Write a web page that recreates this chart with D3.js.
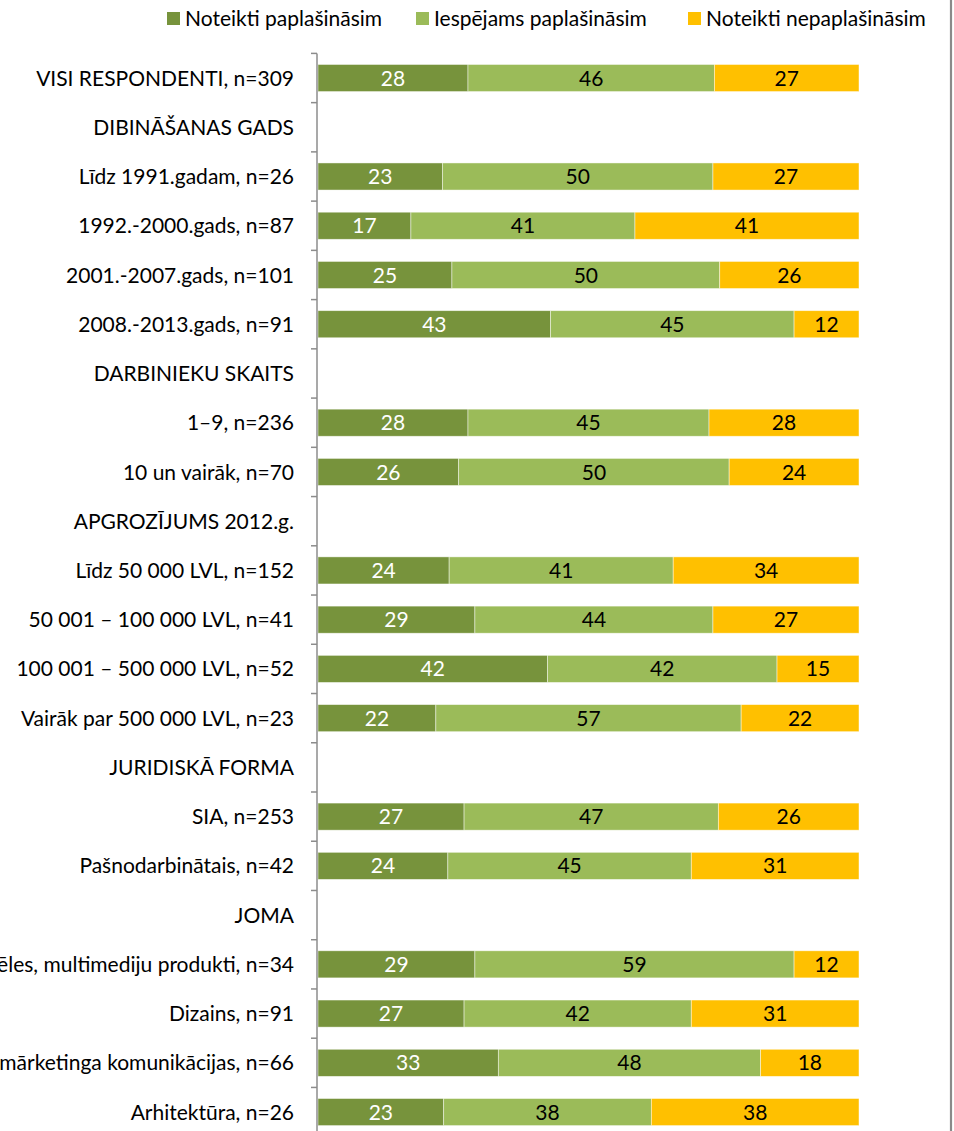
<!DOCTYPE html>
<html>
<head>
<meta charset="utf-8">
<script src="https://cdn.jsdelivr.net/npm/d3@7"></script>
<style>
  html, body { margin: 0; padding: 0; background: #fff; }
  svg { display: block; }
  text { font-family: Lato, "Open Sans", sans-serif; }
</style>
</head>
<body>
<svg id="chart" width="954" height="1131"></svg>
<script>
const categories = [
  "VISI RESPONDENTI, n=309",
  "DIBINĀŠANAS GADS",
  "Līdz 1991.gadam, n=26",
  "1992.-2000.gads, n=87",
  "2001.-2007.gads, n=101",
  "2008.-2013.gads, n=91",
  "DARBINIEKU SKAITS",
  "1–9, n=236",
  "10 un vairāk, n=70",
  "APGROZĪJUMS 2012.g.",
  "Līdz 50 000 LVL, n=152",
  "50 001 – 100 000 LVL, n=41",
  "100 001 – 500 000 LVL, n=52",
  "Vairāk par 500 000 LVL, n=23",
  "JURIDISKĀ FORMA",
  "SIA, n=253",
  "Pašnodarbinātais, n=42",
  "JOMA",
  "Datorspēles, multimediju produkti, n=34",
  "Dizains, n=91",
  "Reklāma un mārketinga komunikācijas, n=66",
  "Arhitektūra, n=26"
];
const seriesNames = ["Noteikti paplašināsim", "Iespējams paplašināsim", "Noteikti nepaplašināsim"];
const definitely = [28, null, 23, 17, 25, 43, null, 28, 26, null, 24, 29, 42, 22, null, 27, 24, null, 29, 27, 33, 23];
const possibly   = [46, null, 50, 41, 50, 45, null, 45, 50, null, 41, 44, 42, 57, null, 47, 45, null, 59, 42, 48, 38];
const definitelyNot = [27, null, 27, 41, 26, 12, null, 28, 24, null, 34, 27, 15, 22, null, 26, 31, null, 12, 31, 18, 38];
const colors = ["#77933C", "#9BBB59", "#FFC000"];
const labelColors = ["#ffffff", "#000000", "#000000"];

const svg = d3.select("#chart");
const W = 954, H = 1131;
const FS = 21;
const plotLeft = 318, plotRight = 859;
const rowStep = 49.24;
const top0 = 53.4;

const rows = categories.map((c, i) => ({
  cat: c,
  s0: definitely[i], s1: possibly[i], s2: definitelyNot[i],
  header: definitely[i] == null
}));

const y = d3.scaleBand()
  .domain(categories)
  .range([top0, top0 + rowStep * categories.length])
  .paddingInner(0.45).paddingOuter(0.225);

const x = d3.scaleLinear().domain([0, 1]).range([plotLeft, plotRight]);

const stack = d3.stack()
  .keys(["s0", "s1", "s2"])
  .value((d, k) => d[k] == null ? 0 : d[k])
  .offset(d3.stackOffsetExpand);
const stacked = stack(rows.map(r => r.header ? {cat: r.cat, s0: 0, s1: 0, s2: 0, header: true} : r));

// right frame line
svg.append("line").attr("x1", 951).attr("x2", 951).attr("y1", 0).attr("y2", H)
  .attr("stroke", "#8a8a8a").attr("stroke-width", 2.2);

// bars
stacked.forEach((layer, li) => {
  const g = svg.append("g");
  layer.forEach((d, i) => {
    const r = rows[i];
    if (r.header) return;
    const x0 = x(d[0]), x1 = x(d[1]);
    g.append("rect")
      .attr("x", x0).attr("y", y(r.cat))
      .attr("width", x1 - x0).attr("height", y.bandwidth())
      .attr("fill", colors[li])
      .attr("stroke", "#ffffff").attr("stroke-opacity", 0.6).attr("stroke-width", 0.75);
    g.append("text")
      .attr("x", (x0 + x1) / 2).attr("y", y(r.cat) + y.bandwidth() / 2)
      .attr("dy", "0.36em").attr("text-anchor", "middle")
      .attr("font-size", FS).attr("fill", labelColors[li])
      .text(r["s" + li]);
  });
});

// axis (category)
const axis = d3.axisLeft(y).tickSize(0).tickFormat("");
const axG = svg.append("g").attr("transform", `translate(${plotLeft - 1},0)`).call(axis);
axG.select(".domain").attr("stroke", "#8c8c8c").attr("stroke-width", 1.5)
  .attr("d", `M0,${top0}V${H}`);
// tick marks at row boundaries
const boundaries = d3.range(categories.length + 1).map(i => top0 + rowStep * i);
axG.selectAll("line.bnd").data(boundaries.filter(b => b < H)).enter().append("line")
  .attr("class", "bnd").attr("x1", -6).attr("x2", 0)
  .attr("y1", d => d).attr("y2", d => d)
  .attr("stroke", "#8c8c8c").attr("stroke-width", 1.5);

// category labels
svg.append("g").selectAll("text").data(categories).enter().append("text")
  .attr("x", 294).attr("y", d => y(d) + y.bandwidth() / 2)
  .attr("dy", "0.36em").attr("text-anchor", "end")
  .attr("font-size", FS).attr("fill", "#000")
  .text(d => d);

// legend
const legendX = [167, 416, 688];
const lg = svg.append("g");
seriesNames.forEach((n, i) => {
  lg.append("rect").attr("x", legendX[i]).attr("y", 12).attr("width", 13).attr("height", 13)
    .attr("fill", colors[i]);
  lg.append("text").attr("x", legendX[i] + 18).attr("y", 25.5)
    .attr("font-size", FS).attr("fill", "#000").text(n);
});
</script>
</body>
</html>
